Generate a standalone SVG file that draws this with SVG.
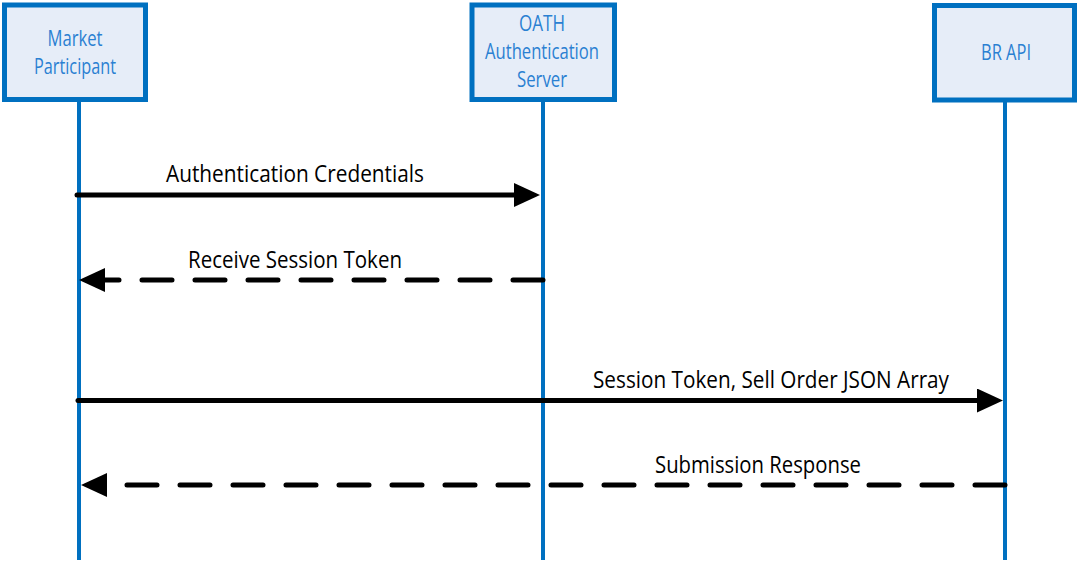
<svg xmlns="http://www.w3.org/2000/svg" width="1077" height="562" viewBox="0 0 1077 562">
  <style>
    .box { fill: #E6EDF8; stroke: #0070C0; stroke-width: 5; }
    .life { stroke: #0070C0; stroke-width: 4; fill: none; }
    .ntext { font-family: "Liberation Sans Narrow", "Open Sans", "Liberation Sans", sans-serif; font-size: 22px; fill: #2A80D2; text-anchor: middle; }
    .msg { stroke: #000; stroke-width: 5; fill: none; stroke-linecap: round; }
    .dash { stroke-dasharray: 30 23; }
    .label { font-family: "Liberation Sans Narrow", "Open Sans", "Liberation Sans", sans-serif; font-size: 24px; fill: #000; }
  </style>
  <defs>
    <marker id="head" markerUnits="userSpaceOnUse" markerWidth="27" markerHeight="25" refX="0" refY="12" orient="auto" viewBox="0 0 27 25">
      <path d="M0,0 L26,12 L0,24 z" fill="#000"/>
    </marker>
  </defs>

  <g id="lifelines">
    <line class="life" x1="79" y1="100" x2="79" y2="560"/>
    <line class="life" x1="543" y1="100" x2="543" y2="560"/>
    <line class="life" x1="1005" y1="100" x2="1005" y2="560"/>
  </g>

  <g id="market-participant">
    <rect class="box" x="4.5" y="5" width="141" height="94.5"/>
    <text class="ntext" x="75" y="46" textLength="55" lengthAdjust="spacingAndGlyphs">Market</text>
    <text class="ntext" x="75" y="74" textLength="82" lengthAdjust="spacingAndGlyphs">Participant</text>
  </g>

  <g id="oath-server">
    <rect class="box" x="472" y="5" width="142.5" height="94.5"/>
    <text class="ntext" x="542" y="31" textLength="46" lengthAdjust="spacingAndGlyphs">OATH</text>
    <text class="ntext" x="542" y="59" textLength="114" lengthAdjust="spacingAndGlyphs">Authentication</text>
    <text class="ntext" x="542" y="87" textLength="50" lengthAdjust="spacingAndGlyphs">Server</text>
  </g>

  <g id="br-api">
    <rect class="box" x="934.5" y="5.5" width="140" height="94.5"/>
    <text class="ntext" x="1006" y="60" textLength="50" lengthAdjust="spacingAndGlyphs">BR API</text>
  </g>

  <g id="connectors">
    <path class="msg" d="M77,195 L514,195" marker-end="url(#head)"/>
    <text class="label" x="166" y="182" textLength="258" lengthAdjust="spacingAndGlyphs">Authentication Credentials</text>

    <path class="msg dash" d="M543,280 L105,280" marker-end="url(#head)"/>
    <text class="label" x="188" y="268" textLength="214" lengthAdjust="spacingAndGlyphs">Receive Session Token</text>

    <path class="msg" d="M78,400.5 L977,400.5" marker-end="url(#head)"/>
    <text class="label" x="593" y="388" textLength="356" lengthAdjust="spacingAndGlyphs">Session Token, Sell Order JSON Array</text>

    <path class="msg dash" d="M1005,485 L107,485" marker-end="url(#head)"/>
    <text class="label" x="655" y="473" textLength="206" lengthAdjust="spacingAndGlyphs">Submission Response</text>
  </g>
</svg>
